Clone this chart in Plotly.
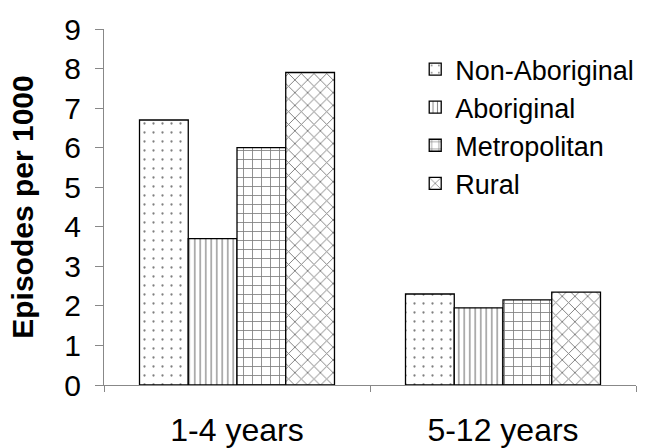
import plotly.graph_objects as go

# Age groups and rates of episodes per 1000 children
age_groups = ["1-4 years", "5-12 years"]
non_aboriginal = [6.7, 2.3]
aboriginal = [3.7, 1.95]
metropolitan = [6.0, 2.15]
rural = [7.9, 2.35]
y_ticks = [0, 1, 2, 3, 4, 5, 6, 7, 8, 9]

series = [
    ("Non-Aboriginal", non_aboriginal, dict(shape=".", size=9, solidity=0.05)),
    ("Aboriginal", aboriginal, dict(shape="|", size=5.5, solidity=0.22)),
    ("Metropolitan", metropolitan, dict(shape="+", size=9, solidity=0.18)),
    ("Rural", rural, dict(shape="x", size=9, solidity=0.2)),
]

FONT = "Liberation Sans, Arial, sans-serif"

fig = go.Figure()
for name, vals, pat in series:
    fig.add_trace(go.Bar(
        name=name,
        x=age_groups,
        y=vals,
        marker=dict(
            color="white",
            line=dict(color="black", width=1.3),
            pattern=dict(fgcolor="black", bgcolor="white", fillmode="overlay", **pat),
        ),
    ))

fig.update_layout(
    width=645,
    height=448,
    margin=dict(l=104, r=9, t=29, b=63, autoexpand=False),
    paper_bgcolor="white",
    plot_bgcolor="white",
    barmode="group",
    bargap=0.267,
    bargroupgap=0,
    font=dict(family=FONT, color="black"),
    showlegend=True,
    legend=dict(
        x=0.585, y=0.955, xanchor="left", yanchor="top",
        font=dict(size=27, family=FONT, color="black"),
        bgcolor="rgba(0,0,0,0)",
        tracegroupgap=0,
        itemwidth=30,
    ),
)

fig.update_xaxes(
    automargin=False,
    showline=True, linecolor="#888888", linewidth=1,
    tickson="boundaries", ticks="outside", ticklen=6, tickcolor="#888888",
    tickfont=dict(size=32, family=FONT),
    ticklabelstandoff=17,
    showgrid=False, zeroline=False,
)
fig.update_yaxes(
    automargin=False,
    range=[0, 9], tickvals=y_ticks,
    showline=True, linecolor="#888888", linewidth=1,
    ticks="outside", ticklen=8, tickcolor="#888888",
    tickfont=dict(size=30, family=FONT),
    ticklabelstandoff=8,
    showgrid=False, zeroline=False,
    title=dict(text="<b>Episodes per 1000</b>", font=dict(size=30, family=FONT), standoff=21),
)

fig.write_html("out.html")
